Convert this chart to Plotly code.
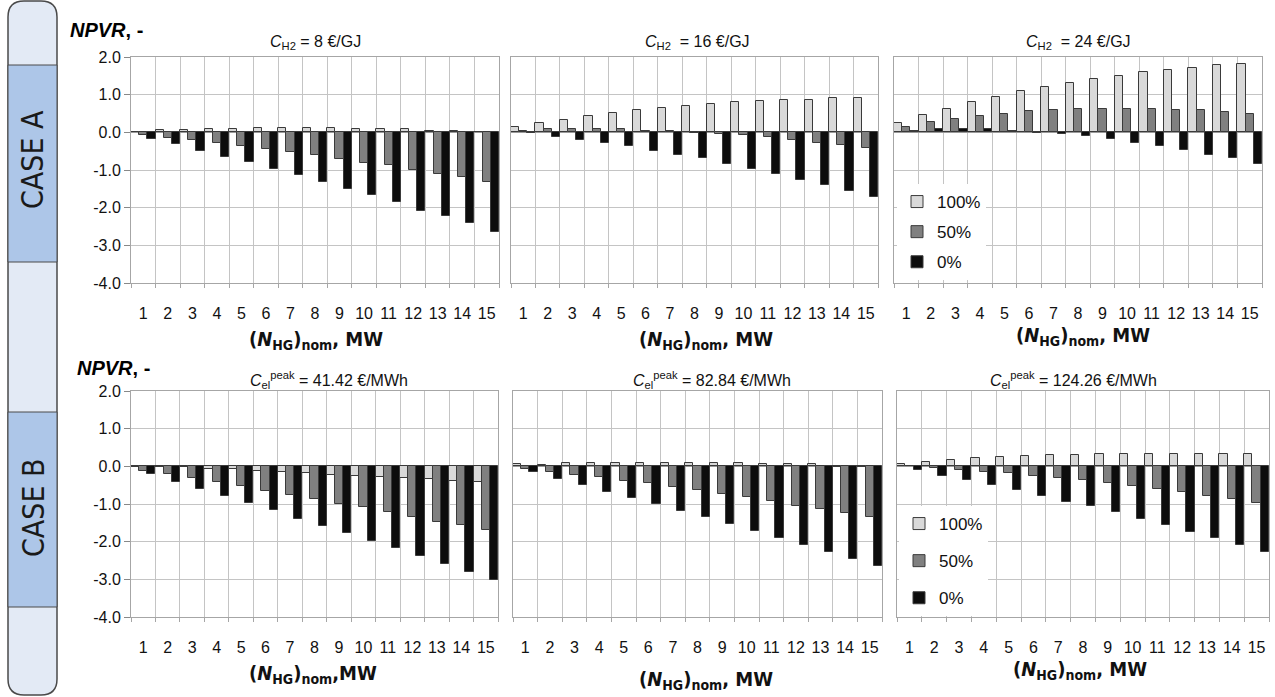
import plotly.graph_objects as go

W, H = 1275, 697

categories = list(range(1, 16))
tick_labels = [str(c) for c in categories]
y_ticks = [-4, -3, -2, -1, 0, 1, 2]
y_tick_labels = ["-4.0", "-3.0", "-2.0", "-1.0", "0.0", "1.0", "2.0"]
series_names = ["100%", "50%", "0%"]
series_colors = ["#d9d9d9", "#808080", "#0d0d0d"]

# CASE A: hydrogen price C_H2
a_h2_8_100 = [0.02, 0.06, 0.06, 0.08, 0.09, 0.12, 0.12, 0.11, 0.11, 0.08, 0.08, 0.08, 0.04, 0.04, 0.01]
a_h2_8_50 = [-0.07, -0.14, -0.21, -0.28, -0.37, -0.43, -0.51, -0.59, -0.71, -0.81, -0.88, -0.99, -1.10, -1.18, -1.31]
a_h2_8_0 = [-0.19, -0.31, -0.50, -0.66, -0.78, -0.97, -1.13, -1.31, -1.51, -1.67, -1.86, -2.08, -2.23, -2.42, -2.64]

a_h2_16_100 = [0.14, 0.24, 0.34, 0.43, 0.52, 0.59, 0.65, 0.71, 0.75, 0.81, 0.83, 0.86, 0.86, 0.90, 0.90]
a_h2_16_50 = [0.04, 0.08, 0.08, 0.08, 0.08, 0.04, 0.04, -0.01, -0.04, -0.08, -0.13, -0.21, -0.28, -0.33, -0.41]
a_h2_16_0 = [-0.03, -0.12, -0.21, -0.28, -0.37, -0.50, -0.59, -0.69, -0.84, -0.98, -1.10, -1.26, -1.41, -1.56, -1.72]

a_h2_24_100 = [0.24, 0.46, 0.62, 0.81, 0.93, 1.09, 1.21, 1.31, 1.41, 1.50, 1.61, 1.66, 1.71, 1.78, 1.82]
a_h2_24_50 = [0.14, 0.27, 0.36, 0.43, 0.50, 0.56, 0.59, 0.62, 0.62, 0.62, 0.62, 0.59, 0.59, 0.55, 0.50]
a_h2_24_0 = [0.03, 0.08, 0.08, 0.08, 0.03, -0.03, -0.05, -0.09, -0.19, -0.28, -0.37, -0.47, -0.59, -0.69, -0.83]

# CASE B: peak electricity price C_el^peak
b_el_41_100 = [-0.01, -0.02, -0.03, -0.06, -0.08, -0.12, -0.15, -0.19, -0.22, -0.25, -0.28, -0.31, -0.34, -0.38, -0.42]
b_el_41_50 = [-0.12, -0.20, -0.31, -0.42, -0.53, -0.65, -0.75, -0.88, -1.00, -1.09, -1.22, -1.35, -1.49, -1.57, -1.69]
b_el_41_0 = [-0.21, -0.41, -0.60, -0.80, -0.98, -1.16, -1.39, -1.58, -1.76, -1.97, -2.17, -2.39, -2.58, -2.80, -3.02]

b_el_83_100 = [0.05, 0.04, 0.08, 0.08, 0.08, 0.08, 0.08, 0.08, 0.08, 0.08, 0.05, 0.05, 0.05, -0.01, -0.02]
b_el_83_50 = [-0.07, -0.16, -0.22, -0.29, -0.39, -0.44, -0.54, -0.64, -0.73, -0.82, -0.91, -1.05, -1.14, -1.23, -1.35]
b_el_83_0 = [-0.16, -0.33, -0.49, -0.67, -0.83, -0.99, -1.18, -1.34, -1.53, -1.71, -1.90, -2.09, -2.28, -2.47, -2.65]

b_el_124_100 = [0.06, 0.12, 0.16, 0.23, 0.26, 0.28, 0.30, 0.31, 0.34, 0.34, 0.34, 0.34, 0.34, 0.34, 0.34]
b_el_124_50 = [0.02, -0.04, -0.09, -0.14, -0.18, -0.25, -0.30, -0.37, -0.43, -0.53, -0.59, -0.68, -0.78, -0.87, -0.97]
b_el_124_0 = [-0.11, -0.25, -0.37, -0.50, -0.63, -0.79, -0.94, -1.06, -1.22, -1.41, -1.57, -1.73, -1.90, -2.10, -2.27]

panel_titles = [
    "<i>C</i><sub>H2</sub> = 8 €/GJ",
    "<i>C</i><sub>H2</sub>  = 16 €/GJ",
    "<i>C</i><sub>H2</sub>  = 24 €/GJ",
    "<i>C</i><sub>el</sub><sup>peak</sup> = 41.42 €/MWh",
    "<i>C</i><sub>el</sub><sup>peak</sup> = 82.84 €/MWh",
    "<i>C</i><sub>el</sub><sup>peak</sup> = 124.26 €/MWh",
]
x_titles = [
    "<b>(<i>N</i><sub>HG</sub>)<sub>nom</sub>, MW</b>",
    "<b>(<i>N</i><sub>HG</sub>)<sub>nom</sub>, MW</b>",
    "<b>(<i>N</i><sub>HG</sub>)<sub>nom</sub>, MW</b>",
    "<b>(<i>N</i><sub>HG</sub>)<sub>nom</sub>,MW</b>",
    "<b>(<i>N</i><sub>HG</sub>)<sub>nom</sub>, MW</b>",
    "<b>(<i>N</i><sub>HG</sub>)<sub>nom</sub>, MW</b>",
]
panel_series = [
    [a_h2_8_100, a_h2_8_50, a_h2_8_0],
    [a_h2_16_100, a_h2_16_50, a_h2_16_0],
    [a_h2_24_100, a_h2_24_50, a_h2_24_0],
    [b_el_41_100, b_el_41_50, b_el_41_0],
    [b_el_83_100, b_el_83_50, b_el_83_0],
    [b_el_124_100, b_el_124_50, b_el_124_0],
]

# plot-area boxes in pixels: (left, right, top, bottom)
boxes = [
    (131, 499, 57, 283), (511, 878, 57, 283), (894, 1262, 57, 283),
    (131, 498, 391, 617), (513, 882, 391, 617), (897, 1269, 391, 617),
]
title_pos = [(315, 43), (697, 43), (1078, 43), (329, 380), (712, 380), (1073, 380)]
xtitle_pos = [(316, 340), (706, 340), (1083, 336), (313, 674), (706, 680), (1080, 670)]


def px(x):
    return x / W


def py(y):
    return 1 - y / H


FONT = "Liberation Sans, Arial, sans-serif"
NARROW = "Liberation Sans Narrow, Arial Narrow, DejaVu Sans Condensed, Liberation Sans, Arial, sans-serif"
GRID = "#c4c4c4"
BORDER = "#a6a6a6"

fig = go.Figure()
layout = {}

for i, series in enumerate(panel_series):
    n = i + 1
    xa = "x" if n == 1 else f"x{n}"
    ya = "y" if n == 1 else f"y{n}"
    legend_id = "legend" if n == 3 else ("legend2" if n == 6 else None)
    for name, color, vals in zip(series_names, series_colors, series):
        fig.add_trace(go.Bar(
            x=categories, y=vals, name=name,
            marker=dict(color=color, line=dict(color="#3a3a3a", width=1)),
            xaxis=xa, yaxis=ya,
            showlegend=legend_id is not None,
            legend=legend_id if legend_id else "legend",
            legendgroup=f"{legend_id}-{name}",
        ))
    left, right, top, bottom = boxes[i]
    first_col = n in (1, 4)
    layout["xaxis" if n == 1 else f"xaxis{n}"] = dict(
        domain=[px(left), px(right)], anchor=ya, range=[0.5, 15.5],
        automargin=False,
        tickmode="array", tickvals=categories, ticktext=tick_labels,
        ticks="", showgrid=False, zeroline=False,
        showline=True, mirror=True, linecolor=BORDER, linewidth=1,
        tickfont=dict(family=FONT, size=16, color="#111"),
        ticklabelstandoff=16,
        minor=dict(tickmode="array", tickvals=[c - 0.5 for c in categories] + [15.5],
                   showgrid=True, gridcolor=GRID, gridwidth=1,
                   ticks="outside", ticklen=4, tickcolor=BORDER),
    )
    layout["yaxis" if n == 1 else f"yaxis{n}"] = dict(
        domain=[py(bottom), py(top)], anchor=xa, range=[-4, 2],
        automargin=False,
        tickmode="array", tickvals=y_ticks, ticktext=y_tick_labels,
        showgrid=True, gridcolor=GRID, gridwidth=1,
        zeroline=True, zerolinecolor="#9a9a9a", zerolinewidth=1,
        showline=True, mirror=True, linecolor=BORDER, linewidth=1,
        ticks="outside" if first_col else "", ticklen=6, tickcolor="#888",
        showticklabels=first_col,
        tickfont=dict(family=FONT, size=16, color="#111"),
    )


def note(x, y, text, font, **kw):
    d = dict(x=px(x), y=py(y), xref="paper", yref="paper", text=text,
             showarrow=False, xanchor="center", yanchor="middle", font=font)
    d.update(kw)
    return d


annotations = []
for i in range(6):
    tx, ty = title_pos[i]
    annotations.append(note(tx, ty, panel_titles[i],
                            dict(family=FONT, size=16, color="#111")))
    ax, ay = xtitle_pos[i]
    annotations.append(note(ax, ay, x_titles[i],
                            dict(family=NARROW, size=20, color="#111")))

for (nx, ny) in [(68, 30), (75, 368)]:
    annotations.append(note(nx, ny, "<b><i>NPVR</i>, -</b>",
                            dict(family=FONT, size=20, color="#000"),
                            xanchor="left"))

# side strip with case labels
for label, yc in [("CASE A", 160), ("CASE B", 508)]:
    annotations.append(note(33, yc, label,
                            dict(family=NARROW, size=30, color="#1a1a1a"),
                            textangle=-90))

x0, x1, y0, y1, r = 8, 57, 1, 695, 16
strip_path = (
    f"M {px(x0 + r)},{py(y0)} L {px(x1 - r)},{py(y0)} "
    f"Q {px(x1)},{py(y0)} {px(x1)},{py(y0 + r)} "
    f"L {px(x1)},{py(y1 - r)} Q {px(x1)},{py(y1)} {px(x1 - r)},{py(y1)} "
    f"L {px(x0 + r)},{py(y1)} Q {px(x0)},{py(y1)} {px(x0)},{py(y1 - r)} "
    f"L {px(x0)},{py(y0 + r)} Q {px(x0)},{py(y0)} {px(x0 + r)},{py(y0)} Z"
)
shapes = [
    dict(type="path", xref="paper", yref="paper", path=strip_path,
         fillcolor="#e3eaf5", line=dict(color="#4a4a4a", width=1.5), layer="below"),
    dict(type="rect", xref="paper", yref="paper", x0=px(x0), x1=px(x1),
         y0=py(65), y1=py(262), fillcolor="#adc6e8",
         line=dict(color="#4a4a4a", width=1), layer="below"),
    dict(type="rect", xref="paper", yref="paper", x0=px(x0), x1=px(x1),
         y0=py(412), y1=py(607), fillcolor="#adc6e8",
         line=dict(color="#4a4a4a", width=1), layer="below"),
]

legend_style = dict(
    xanchor="left", yanchor="top", bgcolor="white",
    font=dict(family=FONT, size=17, color="#111"),
    tracegroupgap=5, itemwidth=30,
)

fig.update_layout(
    width=W, height=H, margin=dict(l=0, r=0, t=0, b=0, pad=0, autoexpand=False),
    paper_bgcolor="white", plot_bgcolor="white",
    barmode="group", bargap=0, bargroupgap=0,
    annotations=annotations, shapes=shapes,
    legend=dict(x=px(897), y=py(184), **legend_style),
    legend2=dict(x=px(899), y=py(506), **{**legend_style, "tracegroupgap": 12}),
    **layout,
)

fig.write_html("out.html")
